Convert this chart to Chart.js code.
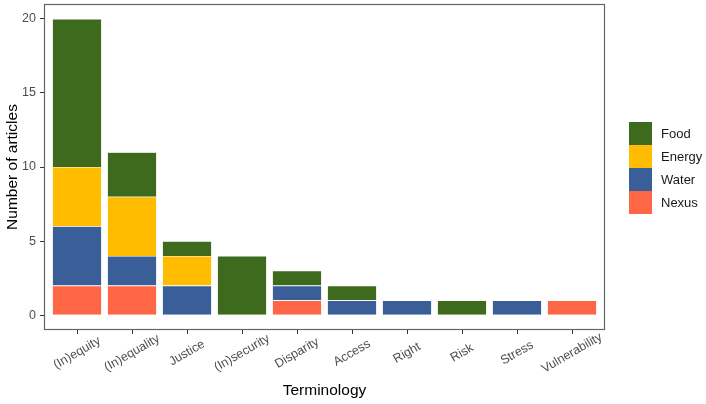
<!DOCTYPE html>
<html>
<head>
<meta charset="utf-8">
<script src="https://cdn.jsdelivr.net/npm/chart.js@4.4.1/dist/chart.umd.min.js"></script>
<style>
    html, body { margin: 0; padding: 0; background: #fff; }
    #wrap { position: relative; width: 706px; height: 404px; }
    #legend { position: absolute; left: 629px; top: 122px; font-family: Arial, "Liberation Sans", sans-serif; font-size: 13px; color: #1a1a1a; }
    .legend-row { display: flex; align-items: center; height: 23px; }
    .legend-box { width: 23px; height: 23px; margin-right: 9px; }
</style>
</head>
<body>
<div id="wrap">
    <canvas id="chart" width="706" height="404"></canvas>
    <div id="legend"></div>
</div>
<script>
const categories = ['(In)equity', '(In)equality', 'Justice', '(In)security', 'Disparity', 'Access', 'Right', 'Risk', 'Stress', 'Vulnerability'];
const nexus  = [2, 2, 0, 0, 1, 0, 0, 0, 0, 1];
const water  = [4, 2, 2, 0, 1, 1, 1, 0, 1, 0];
const energy = [4, 4, 2, 0, 0, 0, 0, 0, 0, 0];
const food   = [10, 3, 1, 4, 1, 1, 0, 1, 0, 0];
const yTicks = [0, 5, 10, 15, 20];

const seriesNames = ['Nexus', 'Water', 'Energy', 'Food'];
const seriesValues = [nexus, water, energy, food];
const seriesColors = ['#ff6645', '#395e98', '#ffbc00', '#3e6a1e'];

const fontFamily = 'Arial, "Liberation Sans", sans-serif';
const tickColor = '#4d4d4d';

// ggplot-style panel border + centred, rotated category labels
const panelPlugin = {
    id: 'panel',
    afterDraw(chart) {
        const { ctx, chartArea, scales } = chart;
        ctx.save();
        ctx.strokeStyle = '#666';
        ctx.lineWidth = 1.2;
        ctx.strokeRect(chartArea.left + 0.5, chartArea.top + 0.5, chartArea.width - 1, chartArea.height - 1);

        ctx.fillStyle = tickColor;
        ctx.font = '12.5px ' + fontFamily;
        ctx.textAlign = 'center';
        ctx.textBaseline = 'middle';
        categories.forEach((label, i) => {
            const px = scales.x.getPixelForValue(i + 1);
            ctx.save();
            ctx.translate(px, chartArea.bottom + 23);
            ctx.rotate(-Math.PI / 6);
            ctx.fillText(label, 0, 0);
            ctx.restore();
        });
        ctx.restore();
    }
};

new Chart(document.getElementById('chart'), {
    type: 'bar',
    data: {
        datasets: seriesNames.map((name, s) => ({
            label: name,
            data: seriesValues[s].map((v, i) => ({ x: i + 1, y: v === 0 ? null : v })),
            backgroundColor: seriesColors[s],
            borderColor: 'rgba(255,255,255,0.7)',
            borderWidth: 0.6,
            categoryPercentage: 0.9,
            barPercentage: 1
        }))
    },
    options: {
        responsive: false,
        animation: false,
        layout: { padding: { top: 4, right: 101, bottom: 0, left: 0 } },
        plugins: { legend: { display: false }, tooltip: { enabled: false } },
        scales: {
            x: {
                type: 'linear',
                stacked: true,
                min: 0.4,
                max: 10.6,
                offset: false,
                afterBuildTicks: (scale) => { scale.ticks = categories.map((c, i) => ({ value: i + 1 })); },
                afterFit: (scale) => { scale.height = 74; scale.paddingLeft = 0; scale.paddingRight = 0; },
                ticks: { display: false },
                grid: { display: true, offset: false, drawOnChartArea: false, drawTicks: true, tickLength: 4, color: '#333' },
                border: { display: false },
                title: {
                    display: true,
                    text: 'Terminology',
                    color: '#000',
                    font: { family: fontFamily, size: 15.5 },
                    padding: { top: 0, bottom: 4 }
                }
            },
            y: {
                stacked: true,
                min: -1,
                max: 21,
                afterBuildTicks: (scale) => { scale.ticks = yTicks.map((v) => ({ value: v })); },
                afterFit: (scale) => { scale.width = 44; scale.paddingTop = 0; scale.paddingBottom = 0; },
                ticks: { color: tickColor, font: { family: fontFamily, size: 12.5 }, padding: 4 },
                grid: { display: true, drawOnChartArea: false, drawTicks: true, tickLength: 4, color: '#333' },
                border: { display: false },
                title: {
                    display: true,
                    text: 'Number of articles',
                    color: '#000',
                    font: { family: fontFamily, size: 15.5 },
                    padding: { top: 3, bottom: 0 }
                }
            }
        }
    },
    plugins: [panelPlugin]
});

// legend: Food on top, Nexus at the bottom
document.getElementById('legend').innerHTML = seriesNames.map((name, s) => `
    <div class="legend-row">
        <div class="legend-box" style="background:${seriesColors[s]}"></div>
        <span>${name}</span>
    </div>
`).reverse().join('');
</script>
</body>
</html>
